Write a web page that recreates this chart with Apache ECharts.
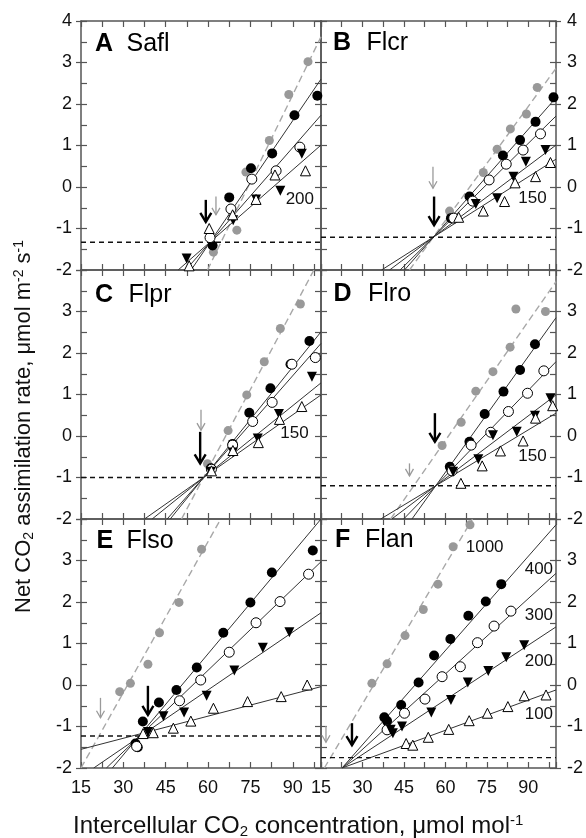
<!DOCTYPE html>
<html><head><meta charset="utf-8">
<script src="https://cdn.jsdelivr.net/npm/echarts@6.0.0/dist/echarts.min.js"></script>
<style>html,body{margin:0;padding:0;background:#fff}#c{width:586px;height:838px}</style>
</head><body><div id="c"></div>
<script>
// ---------- DATA ----------
const xTickLabels = [15, 30, 45, 60, 75, 90];
const yTickLabels = [-2, -1, 0, 1, 2, 3, 4];
const panelLetters = ['A', 'B', 'C', 'D', 'E', 'F'];
const panelNames = ['Safl', 'Flcr', 'Flpr', 'Flro', 'Flso', 'Flan'];
const levels = ['1000', '400', '300', '200', '100'];

// Panel A (Safl)
const A_1000 = [[61.9,-1.57],[70.2,-1.04],[73.4,0.36],[81.7,1.12],[88.6,2.23],[95.4,3.02]];
const A_400 = [[61.6,-1.41],[67.5,-0.25],[75.2,0.45],[82.7,0.81],[90.6,1.73],[98.7,2.2]];
const A_300 = [[60.7,-1.22],[68.1,-0.53],[75.5,0.19],[84.1,0.39],[92.5,0.96]];
const A_200 = [[52.4,-1.72],[68.9,-0.8],[77,-0.3],[85.6,-0.09],[93.2,0.8]];
const A_100 = [[53.3,-1.9],[60.4,-1.0],[68.7,-0.67],[77,-0.3],[83.7,0.29],[94.5,0.39]];
const A_fit = [[59.8,-2,100,3.62],[54,-2,100,2.6],[52.1,-2,100,1.73],[49.4,-2,100,1.01],null];
const A_gamma = -1.33;
const A_arrows = [[59.2,-0.31,-0.84,0],[62.8,-0.23,-0.67,1]];
const A_labels = [['200',92.5,-0.29]];

// Panel B (Flcr)
const B_1000 = [[61.5,-0.58],[73.7,0.35],[78.7,0.91],[83.5,1.4],[89.3,1.76],[93.2,2.4]];
const B_400 = [[62,-0.75],[68.7,-0.23],[80.8,0.76],[87,1.13],[92.6,1.57],[99.1,2.16]];
const B_300 = [[63,-0.75],[69.9,-0.34],[75.8,0.17],[82,0.55],[88.1,0.89],[94.4,1.28]];
const B_200 = [[71,-0.41],[78.7,-0.27],[84.6,0.25],[89.1,0.61],[96.2,0.89]];
const B_100 = [[64.8,-0.73],[73.7,-0.58],[81.4,-0.35],[85.2,0.1],[92.6,0.25],[98,0.59]];
const B_fit = [[47,-2,100,2.86],[45.2,-2,100,2.15],[43.6,-2,100,1.71],[39.8,-2,100,1.01],[36.9,-2,100,0.67]];
const B_gamma = -1.21;
const B_arrows = [[55.9,-0.23,-0.92,0],[55.5,0.49,-0.03,1]];
const B_labels = [['150',91.5,-0.27]];

// Panel C (Flpr)
const C_1000 = [[59.8,-0.67],[67.1,0.13],[73.7,0.99],[79.9,1.79],[85.6,2.59],[92.7,3.18]];
const C_400 = [[61,-0.78],[68.7,-0.19],[74.6,0.56],[82.1,1.15],[89.2,1.73],[95.9,2.29]];
const C_300 = [[61.2,-0.8],[68.7,-0.22],[75.8,0.35],[82.7,0.81],[89.7,1.73],[98,1.89]];
const C_200 = [[61,-0.86],[68.8,-0.4],[77.6,-0.06],[85.1,0.53],[96.8,1.43]];
const C_100 = [[61.2,-0.84],[68.8,-0.35],[77.8,-0.16],[85.3,0.4],[93.2,0.71]];
const C_fit = [[50.6,-2,97.5,4],[46.6,-2,100,2.51],[45.5,-2,100,2.23],[40.2,-2,100,1.28],[37.5,-2,100,0.99]];
const C_gamma = -1.0;
const C_arrows = [[57.2,0.1,-0.66,0],[57.5,0.63,0.14,1]];
const C_labels = [['150',90.6,0.06]];

// Panel D (Flro)
const D_1000 = [[58.8,-0.23],[65.7,0.33],[71,1.08],[77.2,1.55],[83.4,2.14],[85.5,3.06],[96.2,3.0]];
const D_400 = [[61.6,-0.74],[68.7,-0.14],[74.2,0.53],[81,1.07],[87,1.59],[92.4,2.21]];
const D_300 = [[62.4,-0.84],[69.3,-0.22],[76.4,0.09],[82.8,0.59],[89.7,1.03],[95.6,1.57]];
const D_200 = [[62.8,-0.86],[71.9,-0.56],[77.2,0.02],[85.8,0.1],[92.4,0.49],[98,0.91]];
const D_100 = [[65.6,-1.14],[73.3,-0.72],[79.9,-0.36],[88.1,-0.12],[92.6,0.43],[98.8,0.73]];
const D_fit = [[40.2,-2,100,3.72],[47.9,-2,100,2.85],[44.9,-2,100,1.79],[40.6,-2,100,0.99],[36.6,-2,100,0.55]];
const D_gamma = -1.2;
const D_arrows = [[56.2,0.55,-0.14,0],[47,-0.66,-0.96,1]];
const D_labels = [['150',91.5,-0.5]];

// Panel E (Flso)
const E_1000 = [[28.7,-0.16],[32.5,0.04],[38.7,0.5],[42.8,1.26],[49.7,1.99],[57.7,3.27]];
const E_400 = [[34.3,-1.41],[35.1,-1.5],[36.9,-0.88],[42.6,-0.42],[48.8,-0.12],[56,0.42],[65.4,1.26],[75,1.99],[82.6,2.71],[97.1,3.24]];
const E_300 = [[34.7,-1.48],[49.9,-0.38],[57.4,0.12],[67.5,0.79],[77,1.5],[85.5,2.01],[95.6,2.67]];
const E_200 = [[38.7,-1.13],[44.2,-0.75],[51.5,-0.66],[59.5,-0.26],[69.3,0.35],[79.4,0.9],[88.8,1.27]];
const E_100 = [[37,-1.17],[40.6,-1.15],[47.7,-1.04],[53.9,-0.87],[61.9,-0.56],[74,-0.4],[85.9,-0.28],[95.1,0.0]];
const E_fit = [[15,-2,64.5,4],[26.1,-2,100,4],[24,-2,100,2.97],[19.5,-2,100,1.74],[15,-1.55,100,-0.04]];
const E_gamma = -1.23;
const E_arrows = [[38.7,-0.02,-0.72,0],[21.9,-0.31,-0.79,1]];
const E_labels = [];

// Panel F (Flan)
const F_1000 = [[33.4,0.04],[38.9,0.51],[45.4,1.19],[52,1.82],[57.3,2.43],[62.8,3.33],[68.9,3.86]];
const F_400 = [[37.9,-0.78],[38.9,-0.87],[44,-0.48],[50.3,0.06],[55.9,0.71],[61.8,1.11],[68.3,1.67],[74.6,2.01],[80.2,2.43]];
const F_300 = [[38.9,-1.08],[45.2,-0.68],[52.6,-0.34],[58.8,0.2],[65.4,0.44],[71.6,1.02],[77.6,1.42],[83.7,1.78]];
const F_200 = [[40.2,-1.08],[41,-1.16],[44.3,-1.0],[54.9,-0.66],[62,-0.36],[68.1,0.06],[75.5,0.34],[82,0.67],[88.5,0.96]];
const F_100 = [[45.8,-1.41],[48.2,-1.45],[53.8,-1.26],[61.2,-1.07],[68.6,-0.86],[75.2,-0.68],[82.6,-0.52],[88.5,-0.26],[96.4,-0.24]];
const F_fit = [[16.2,-2,69.8,4],[22.6,-2,100,3.86],[22.6,-2,100,2.69],[22.6,-2,100,1.4],[22.6,-2,100,-0.12]];
const F_gamma = -1.75;
const F_arrows = [[26.2,-0.92,-1.45,0],[16.8,-0.99,-1.38,1]];
const F_labels = [['1000',74.2,3.32],['400',93.8,2.79],['300',93.8,1.67],['200',93.8,0.56],['100',93.8,-0.7]];

// ---------- BUILD ----------
const panelPoints = [
  [A_1000,A_400,A_300,A_200,A_100],[B_1000,B_400,B_300,B_200,B_100],
  [C_1000,C_400,C_300,C_200,C_100],[D_1000,D_400,D_300,D_200,D_100],
  [E_1000,E_400,E_300,E_200,E_100],[F_1000,F_400,F_300,F_200,F_100]];
const panelFits = [A_fit,B_fit,C_fit,D_fit,E_fit,F_fit];
const panelGamma = [A_gamma,B_gamma,C_gamma,D_gamma,E_gamma,F_gamma];
const panelArrows = [A_arrows,B_arrows,C_arrows,D_arrows,E_arrows,F_arrows];
const panelLabels = [A_labels,B_labels,C_labels,D_labels,E_labels,F_labels];

const FONT = '"Liberation Sans", Arial, Helvetica, sans-serif';
const AX = '#555';
const TXT = '#111';
const GW = 240, GH = 249, GL = [81, 321], GT = [21, 270, 519];

const symStyles = [
  {symbol:'circle', size:9, rot:0, item:{color:'#999', opacity:1}},
  {symbol:'circle', size:10, rot:0, item:{color:'#000', opacity:1}},
  {symbol:'circle', size:10, rot:0, item:{color:'#fff', borderColor:'#000', borderWidth:1, opacity:1}},
  {symbol:'triangle', size:10, rot:180, item:{color:'#000', opacity:1}},
  {symbol:'triangle', size:10, rot:0, item:{color:'#fff', borderColor:'#000', borderWidth:1, opacity:1}}
];

const grid = [], xAxis = [], yAxis = [], series = [], graphic = [];

panelLetters.forEach((letter, i) => {
  const col = i % 2, row = Math.floor(i / 2);
  grid.push({left: GL[col], top: GT[row], width: GW, height: GH});
  const xBase = {gridIndex:i, type:'value', min:15, max:100, interval:7.5,
    axisLine:{onZero:false, lineStyle:{color:AX, width:1.5}},
    axisTick:{inside:true, length:6, lineStyle:{color:AX, width:1.2}},
    splitLine:{show:false}};
  xAxis.push(Object.assign({}, xBase, {position:'bottom',
    axisLabel:{show: row === 2, fontSize:18, color:TXT, fontFamily:FONT, margin:11,
      formatter: v => xTickLabels.includes(v) ? String(v) : ''}}));
  xAxis.push(Object.assign({}, xBase, {position:'top', axisLabel:{show:false}}));
  const yBase = {gridIndex:i, type:'value', min:-2, max:4, interval:0.5,
    axisLine:{onZero:false, lineStyle:{color:AX, width:1.5}},
    axisTick:{inside:true, length:6, lineStyle:{color:AX, width:1.2}},
    axisLabel:{show:false}, splitLine:{show:false}};
  yAxis.push(Object.assign({}, yBase, {position:'left'}));
  yAxis.push(Object.assign({}, yBase, {position:'right'}));
  yAxis.push({gridIndex:i, type:'value', min:-2, max:4, interval:1, position: col ? 'right' : 'left',
    axisLine:{show:false, onZero:false},
    axisTick:{inside:false, length:5, lineStyle:{color:AX, width:1.2}},
    axisLabel:{show:true, fontSize:18, color:TXT, fontFamily:FONT, margin: col ? 11 : 9,
      formatter: v => (yTickLabels.includes(v) && !(v === 4 && row > 0)) ? String(v) : ''},
    splitLine:{show:false}});

  const xi = 2 * i, yi = 3 * i;
  panelFits[i].forEach((f, k) => {
    if (!f) return;
    series.push({type:'line', xAxisIndex:xi, yAxisIndex:yi, data:[[f[0], f[1]], [f[2], f[3]]],
      symbol:'none', silent:true, clip:true, z:2,
      lineStyle: k === 0 ? {color:'#a8a8a8', width:1.4, type:[7,4]} : {color:'#333', width:1}});
  });
  series.push({type:'line', xAxisIndex:xi, yAxisIndex:yi,
    data:[[15, panelGamma[i]], [100, panelGamma[i]]], symbol:'none', silent:true, z:2,
    lineStyle:{color:'#111', width:1.4, type:[5,4]}});
  panelPoints[i].forEach((d, k) => {
    const s = symStyles[k];
    series.push({type:'scatter', name: levels[k], xAxisIndex:xi, yAxisIndex:yi, data:d,
      symbol:s.symbol, symbolSize:s.size, symbolRotate:s.rot, itemStyle:s.item, z:3});
  });
  series.push({type:'custom', xAxisIndex:xi, yAxisIndex:yi, data: panelArrows[i], z:4,
    renderItem: (params, api) => {
      const p1 = api.coord([api.value(0), api.value(1)]);
      const p2 = api.coord([api.value(0), api.value(2)]);
      const black = api.value(3) === 0;
      const c = black ? '#000' : '#9a9a9a';
      const lw = black ? 2.4 : 1.3;
      const hw = black ? 5.5 : 4, hl = black ? 9 : 7;
      return {type:'group', children:[
        {type:'line', shape:{x1:p1[0], y1:p1[1], x2:p2[0], y2:p2[1]}, style:{stroke:c, lineWidth:lw}},
        {type:'polyline', shape:{points:[[p2[0]-hw, p2[1]-hl], [p2[0], p2[1]], [p2[0]+hw, p2[1]-hl]]},
          style:{stroke:c, lineWidth:lw, fill:null}}
      ]};
    }});
  if (panelLabels[i].length) {
    series.push({type:'scatter', xAxisIndex:xi, yAxisIndex:yi, symbolSize:0, z:5,
      itemStyle:{opacity:1},
      data: panelLabels[i].map(l => ({name:l[0], value:[l[1], l[2]]})),
      label:{show:true, position:'inside', formatter:'{b}', fontSize:17, color:TXT, fontFamily:FONT, opacity:1}});
  }
  const lx = [[95,44],[333,43.5],[95,295],[333.5,294],[96.5,541.5],[335,540.5]][i];
  const nx = [126.5,366.5,128.5,368,126.5,365][i];
  graphic.push({type:'text', x:lx[0], y:lx[1], style:{text:letter, font:'bold 25px ' + FONT, fill:'#000', align:'left', verticalAlign:'middle'}});
  graphic.push({type:'text', x:nx, y:lx[1], style:{text:panelNames[i], font:'25px ' + FONT, fill:'#000', align:'left', verticalAlign:'middle'}});
});

function richFor(fs) {
  return {
    n:{fontSize:fs, fontFamily:FONT, lineHeight:fs + 2, color:TXT},
    sub:{fontSize:Math.round(fs * 0.63), fontFamily:FONT, lineHeight:Math.round(fs * 0.6), verticalAlign:'bottom', color:TXT},
    sup:{fontSize:Math.round(fs * 0.63), fontFamily:FONT, lineHeight:Math.round(fs * 0.6), verticalAlign:'top', color:TXT}
  };
}
graphic.push({type:'text', x:24, y:613, rotation:Math.PI/2,
  style:{text:'{n|Net CO}{sub|2}{n| assimilation rate, μmol m}{sup|-2}{n| s}{sup|-1}', rich:richFor(22),
    align:'left', verticalAlign:'middle', fill:TXT}});
graphic.push({type:'text', x:73, y:826.5,
  style:{text:'{n|Intercellular CO}{sub|2}{n| concentration, μmol mol}{sup|-1}', rich:richFor(24),
    align:'left', verticalAlign:'middle', fill:TXT}});

const chart = echarts.init(document.getElementById('c'), null, {renderer:'canvas'});
chart.setOption({animation:false, backgroundColor:'#fff', grid, xAxis, yAxis, series, graphic});
</script></body></html>
